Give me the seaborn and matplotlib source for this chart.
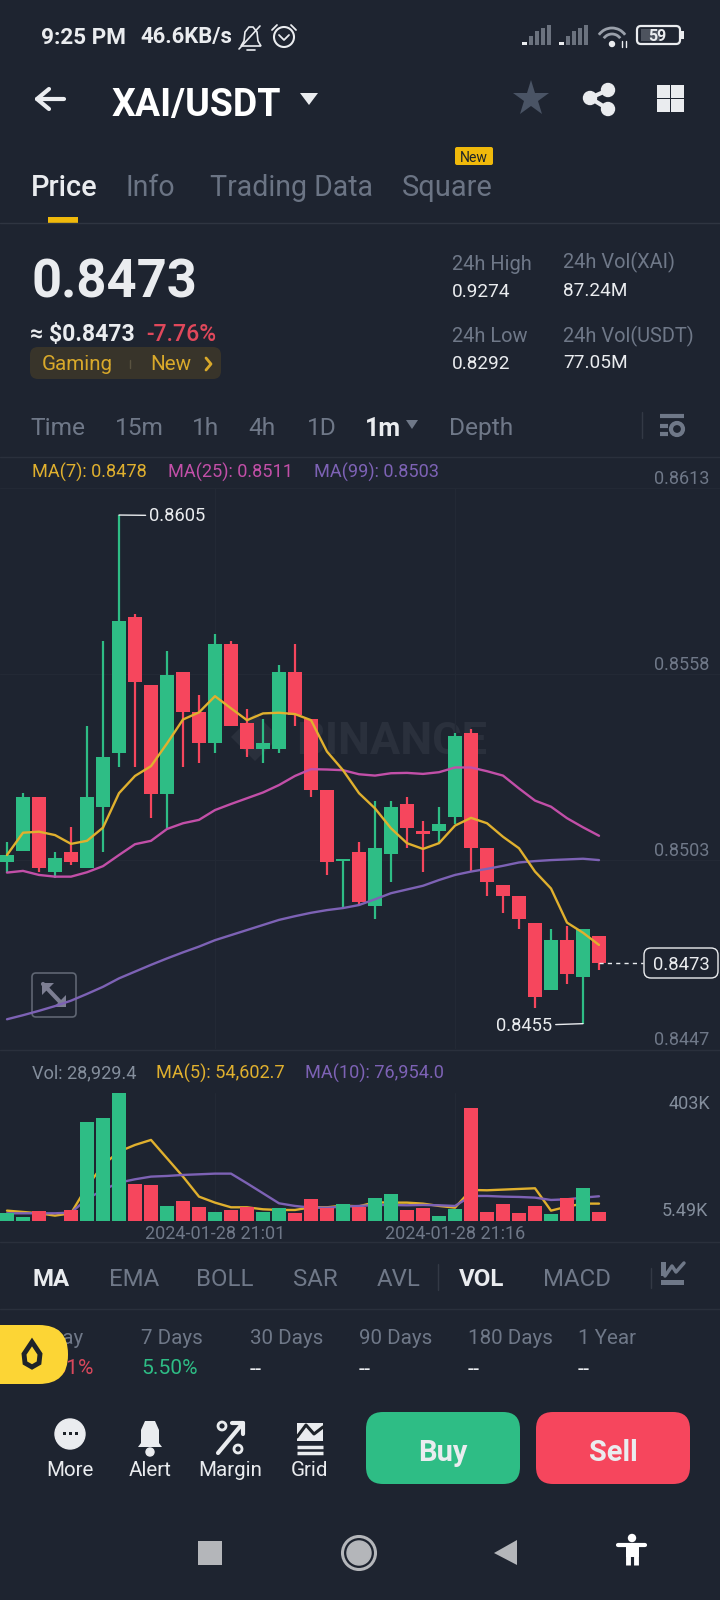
import numpy as np
import pandas as pd
import matplotlib
matplotlib.use('Agg')
from matplotlib import pyplot as plt
from matplotlib.patches import Circle, FancyBboxPatch, Polygon, Rectangle, Arc
import seaborn as sns

# candles
opens = [.85024, .85056, .85215, .84993, .85054, .85005, .85185, .85346, .85748, .85547,
         .85226, .85587, .85467, .85376, .85667, .85436, .85357, .85357, .85587, .85446,
         .85236, .85026, .85054, .84894, .85046, .85195, .85115, .85115, .85156, .85406,
         .85064, .84954, .84924, .84844, .84644, .84792, .84684, .84804]
closes = [.85044, .85215, .85005, .85034, .85024, .85215, .85335, .85737, .85557, .85226,
          .85577, .85467, .85376, .85667, .85427, .85357, .85376, .85587, .85457, .85236,
          .85024, .85031, .84906, .85064, .85185, .85125, .85105, .85135, .85396, .85066,
          .84965, .84924, .84854, .84623, .84792, .84693, .84824, .84724]
highs = [.85083, .85227, .85215, .85054, .85126, .85427, .85677, .8605, .85757, .85547,
         .85648, .85587, .85517, .85698, .85677, .85477, .85446, .85607, .85667, .85446,
         .85236, .85031, .85083, .85205, .85205, .85216, .85145, .85185, .85406, .85416,
         .85064, .84954, .84924, .84844, .84824, .84834, .84824, .84804]
lows = [.8499, .85056, .84995, .84975, .85014, .85005, .85054, .85305, .85305, .85154,
        .85123, .85305, .85315, .85347, .85427, .85335, .85315, .85347, .85427, .85215,
        .84985, .84886, .84894, .84854, .84965, .85066, .84995, .8508, .85135, .84995,
        .84924, .84873, .84824, .84592, .84644, .84663, .84545, .84703]

ma7 = [.85044, .8511, .85113, .85103, .85077, .85086, .85125, .85227, .85278, .85307,
       .85374, .85445, .85466, .85514, .85478, .85443, .85463, .85465, .85461, .85443,
       .8535, .85295, .85227, .85182, .85123, .85079, .85062, .85079, .85131, .85154,
       .85138, .85098, .85064, .84995, .84945, .84844, .84814, .84778]
ma25 = [.84992, .84997, .84985, .8498, .8498, .84993, .85011, .85044, .85076, .85086,
        .85121, .85138, .85148, .85177, .85195, .85212, .85229, .85251, .85278, .85298,
        .85297, .85295, .85283, .85279, .85286, .85287, .85284, .85289, .85303, .85303,
        .85292, .85279, .85241, .85205, .85187, .85153, .85126, .85101]
ma99 = [.84558, .8457, .84583, .84597, .84613, .84633, .84654, .84679, .84699, .84719,
        .84738, .84756, .84773, .84792, .84807, .84822, .84837, .84852, .84863, .84873,
        .84881, .84887, .84896, .84913, .84931, .84942, .84953, .8497, .84985, .84995,
        .85003, .85012, .85022, .85026, .85029, .85031, .85033, .85029]

# volume in thousands
vol = [25, 14.6, 32, 1.5, 34, 310, 323, 403, 116, 114, 49, 63, 45, 29, 35.5, 45, 29, 41, 26, 70,
       41, 53, 45, 72, 85, 35.5, 41, 16, 39, 355, 28, 54, 26, 47, 23, 73, 104.5, 30]
vol_ma5 = [33.4, 29.3, 25.1, 17.8, 25.1, 108.7, 176.6, 218.4, 239.3, 255, 197.5, 140, 77.3,
           58.5, 43.9, 43.9, 37.6, 35.5, 35.5, 43.9, 43.9, 49.1, 47, 59.6, 58.5, 58.5, 55.4,
           48.1, 42.8, 98.2, 97.2, 99.3, 101.4, 103.5, 33.4, 46, 55.4, 55.4]
vol_ma10 = [25.1, 25.1, 25.1, 25.1, 27.2, 70, 98.2, 121.2, 131.7, 140, 142.1, 145.3, 147.3,
            149.4, 149.4, 119.1, 87.8, 56.4, 48.1, 42.8, 42.8, 46, 48.1, 51.2, 51.2, 50.2,
            51.2, 50.2, 48.1, 79.4, 79.4, 77.3, 76.3, 74.2, 66.9, 69, 74.2, 78.4]

price_ticks = [0.8447, 0.8503, 0.8558, 0.8613]
time_labels = ['2024-01-28 21:01', '2024-01-28 21:16']
time_idx = [13, 28]

BG = '#1e2430'
GRID = '#232935'
GREEN = '#2ebd85'
RED = '#f6465d'
YELLOW = '#f0b90b'
GREY = '#848e9c'
WHITE = '#eaecef'
MA_Y = '#e0b02e'
MA_P = '#c24fa8'
MA_V = '#7d62b5'

sns.set_theme(style='dark', rc={'axes.facecolor': 'none', 'figure.facecolor': BG,
                                'axes.edgecolor': BG})
plt.rcParams['font.family'] = ['Roboto', 'DejaVu Sans']

df = pd.DataFrame({'idx': np.arange(len(opens)), 'open': opens, 'close': closes,
                   'high': highs, 'low': lows, 'ma7': ma7, 'ma25': ma25, 'ma99': ma99,
                   'vol': vol, 'vol_ma5': vol_ma5, 'vol_ma10': vol_ma10})
df['dir'] = np.where(df.close >= df.open, 'up', 'down')
df['col'] = df.dir.map({'up': GREEN, 'down': RED})

fig = plt.figure(figsize=(7.2, 16), dpi=100)

# whole screen in pixel coords, for the app chrome
ui = fig.add_axes([0, 0, 1, 1])
ui.set_xlim(0, 720)
ui.set_ylim(1600, 0)
ui.axis('off')


def txt(x, y, s, px, color=GREY, weight='normal', ha='left', **kw):
    return ui.text(x, y, s, fontsize=px * 0.72, color=color, fontweight=weight,
                   ha=ha, va='center_baseline', **kw)


def box(x0, y0, x1, y1, color, r=8, **kw):
    p = FancyBboxPatch((x0, y0), x1 - x0, y1 - y0, boxstyle=f'round,pad=0,rounding_size={r}',
                       facecolor=color, edgecolor=kw.pop('edgecolor', 'none'), **kw)
    ui.add_patch(p)
    return p


def seg(xs, ys, color=WHITE, lw=2, **kw):
    ui.plot(xs, ys, color=color, lw=lw, solid_capstyle=kw.pop('cap', 'round'), **kw)


# status bar
txt(41, 35, '9:25 PM', 22.5, WHITE, 'bold')
txt(140, 35, '46.6KB/s', 22, WHITE, 'bold')
ui.add_patch(Polygon([[241, 46], [244, 41], [245, 32], [249, 27], [253, 27], [257, 32], [258, 41],
                      [261, 46]], closed=True, fill=False, edgecolor=WHITE, lw=1.2))
seg([239, 260], [49, 26], WHITE, 1.2)
seg([247, 255], [50, 50], WHITE, 1.2)
ui.add_patch(Circle((284, 37), 10, fill=False, edgecolor=WHITE, lw=1.5))
seg([279, 284, 289], [35, 40, 35], WHITE, 1.3)
seg([272, 277], [30, 25], WHITE, 1.3)
seg([291, 296], [25, 30], WHITE, 1.3)
for gx in [522, 559]:
    ui.add_patch(Rectangle((gx, 42), 5, 3, color=WHITE, lw=0))
    for k, top in enumerate([36, 31, 28, 25]):
        ui.add_patch(Rectangle((gx + 6.5 + k * 6, top), 4, 45 - top, color='#6b727e', lw=0))
ui.add_patch(Arc((612, 44), 32, 32, theta1=215, theta2=325, color='#9aa0aa', lw=2))
ui.add_patch(Arc((612, 44), 20, 20, theta1=215, theta2=325, color='#9aa0aa', lw=2))
ui.add_patch(Circle((612, 44), 2.5, color=WHITE))
seg([622, 622], [41, 47], WHITE, 1)
seg([626, 626], [41, 47], WHITE, 1)
box(637, 26, 680, 44, 'none', r=4, edgecolor=WHITE, lw=1.6)
ui.add_patch(Rectangle((641, 29), 19, 12, color='#4d535e', lw=0))
txt(657, 35, '59', 16, WHITE, 'bold', ha='center')
ui.add_patch(Rectangle((681, 31), 3, 8, color=WHITE, lw=0))

# title row
seg([37, 64], [99, 99], WHITE, 3)
seg([49, 37, 49], [89, 99, 109], WHITE, 3)
txt(112, 102, 'XAI/USDT', 37.5, '#ffffff', 'bold')
ui.add_patch(Polygon([[300, 93], [318, 93], [309, 105]], closed=True, color=WHITE, lw=0))
ui.plot(530.5, 99, marker='*', ms=27, color='#4a5465', mew=0)
for cx, cy in [(590, 98), (608, 90), (608, 109)]:
    ui.add_patch(Circle((cx, cy), 6.5, color=WHITE))
seg([608, 590, 608], [90, 98, 109], WHITE, 3)
for cx in [657, 671]:
    for cy in [85, 99]:
        ui.add_patch(Rectangle((cx, cy), 12.5, 12.5, color=WHITE, lw=0))

# tabs
txt(31, 185, 'Price', 29, WHITE, 'medium')
txt(126, 185, 'Info', 28.5, '#6b7484')
txt(210, 185, 'Trading Data', 28.5, '#6b7484')
txt(402, 185, 'Square', 29, '#6b7484')
box(455, 147, 493, 165, YELLOW, r=2)
txt(474, 156, 'New', 14, '#1e2329', ha='center')
ui.add_patch(Rectangle((48, 217), 30, 6, color=YELLOW, lw=0))
seg([0, 720], [223, 223], '#2f3541', 1)

# price block
txt(31, 277, '0.8473', 52.5, WHITE, 'bold')
txt(30, 332, '≈ $0.8473', 23, WHITE, 'bold')
txt(146, 332, '-7.76%', 23, '#e0485b', 'medium')
box(30, 347, 221, 379, '#38342a', r=8)
txt(42, 363, 'Gaming', 20.5, '#d9a92a')
seg([130, 130], [360, 368], '#5a5340', 1)
txt(150, 363, 'New', 20.5, '#d9a92a')
seg([206, 211, 206], [358, 364, 370], '#d9a92a', 2)
txt(452, 262, '24h High', 20, '#6f7888')
txt(452, 290, '0.9274', 19, WHITE)
txt(563, 260, '24h Vol(XAI)', 20, '#6f7888')
txt(563, 289, '87.24M', 19, WHITE)
txt(452, 334, '24h Low', 20, '#6f7888')
txt(452, 362, '0.8292', 19, WHITE)
txt(563, 334, '24h Vol(USDT)', 20, '#6f7888')
txt(563, 361, '77.05M', 19, WHITE)

# interval row
for x, s in [(30, 'Time'), (115, '15m'), (192, '1h'), (248, '4h'), (307, '1D'), (449, 'Depth')]:
    txt(x, 426, s, 24.5, '#6f7888')
txt(365, 426, '1m', 25, WHITE, 'bold')
ui.add_patch(Polygon([[406, 420], [418, 420], [412, 429]], closed=True, color='#6f7888', lw=0))
seg([642, 642], [412, 438], '#333945', 1)
seg([660, 684], [416, 416], '#6f7888', 3, cap='butt')
seg([660, 668], [426, 426], '#6f7888', 3, cap='butt')
seg([660, 668], [434, 434], '#6f7888', 3, cap='butt')
ui.add_patch(Circle((677, 429), 6, fill=False, edgecolor='#6f7888', lw=3))
seg([0, 720], [457, 457], '#2a303c', 1)

# MA captions
txt(32, 470, 'MA(7): 0.8478', 18.2, MA_Y)
txt(168, 470, 'MA(25): 0.8511', 18.2, MA_P)
txt(314, 470, 'MA(99): 0.8503', 18.2, MA_V)
txt(32, 1071, 'Vol: 28,929.4', 18.2, GREY)
txt(156, 1071, 'MA(5): 54,602.7', 18.2, MA_Y)
txt(305, 1071, 'MA(10): 76,954.0', 18.2, MA_V)
seg([0, 720], [1049.5, 1049.5], '#2a303c', 1)
seg([0, 720], [1242, 1242], '#2a303c', 1)
txt(710, 1102, '403K', 18, GREY, ha='right')
txt(708, 1209, '5.49K', 18, GREY, ha='right')

# indicator row
for x, s in [(109, 'EMA'), (196, 'BOLL'), (293, 'SAR'), (377, 'AVL'), (543, 'MACD')]:
    txt(x, 1277, s, 24, '#6f7888')
txt(33, 1277, 'MA', 24, WHITE, 'bold')
txt(459, 1277, 'VOL', 24, WHITE, 'bold')
seg([438, 438], [1264, 1290], '#333945', 1)
seg([651, 651], [1268, 1288], '#333945', 1)
ui.add_patch(Polygon([[661, 1276], [666, 1276], [666, 1262], [661, 1262], [661, 1285], [684, 1285],
                      [684, 1280], [661, 1280]], closed=True, color='#6f7888', lw=0))
seg([665, 672, 676, 684], [1276, 1266, 1272, 1263], '#6f7888', 2.5)
seg([0, 720], [1309, 1309], '#2a303c', 1)

# performance row
for x, s in [(32, '1 Day'), (141, '7 Days'), (250, '30 Days'), (359, '90 Days'), (468, '180 Days'),
             (578, '1 Year')]:
    txt(x, 1336, s, 20.5, '#6f7888')
txt(94, 1367, '-1.51%', 21, '#d9485c', ha='right')
txt(141, 1367, '5.50%', 21, GREEN)
for x in [250, 359, 468, 578]:
    txt(x, 1368, '--', 22, WHITE)
ui.add_patch(FancyBboxPatch((-40, 1325), 108, 59, boxstyle='round,pad=0,rounding_size=29',
                            facecolor='#fcd535', edgecolor='none', zorder=5))
ui.add_patch(Polygon([[32, 1342], [40, 1354], [39, 1363], [32, 1367], [25, 1363], [24, 1354]],
                     closed=True, facecolor='#fcd535', edgecolor='#1e2329', lw=3.5, zorder=6))

# bottom actions
ui.add_patch(Circle((70, 1434), 15, color=WHITE))
for dx in [-6, 0, 6]:
    ui.add_patch(Rectangle((70 + dx - 1.5, 1432), 3, 3, color='#1e2329', lw=0))
ui.add_patch(Polygon([[138, 1447], [141, 1443], [141, 1430], [145, 1421], [155, 1421], [159, 1430],
                      [159, 1443], [162, 1447]], closed=True, color=WHITE, lw=0))
ui.add_patch(Circle((150, 1452), 4, color=WHITE))
seg([218, 243], [1453, 1423], WHITE, 3)
seg([232, 243, 243], [1423, 1423, 1434], WHITE, 3)
ui.add_patch(Circle((222, 1426), 4, fill=False, edgecolor=WHITE, lw=2))
ui.add_patch(Circle((238, 1449), 4, fill=False, edgecolor=WHITE, lw=2))
ui.add_patch(Polygon([[297, 1423], [323, 1423], [323, 1441], [297, 1441]], closed=True, color=WHITE, lw=0))
seg([297, 306, 314, 323], [1437, 1425, 1434, 1427], '#1e2329', 2.2)
seg([297, 323], [1447, 1447], WHITE, 2.5, cap='butt')
seg([297, 323], [1453, 1453], WHITE, 2.5, cap='butt')
for x, s in [(70, 'More'), (150, 'Alert'), (230, 'Margin'), (309, 'Grid')]:
    txt(x, 1469, s, 20.5, WHITE, ha='center')
box(366, 1412, 520, 1484, GREEN, r=17)
box(536, 1412, 690, 1484, RED, r=17)
txt(443, 1450, 'Buy', 29, WHITE, 'bold', ha='center')
txt(613, 1450, 'Sell', 29, WHITE, 'bold', ha='center')

# nav bar
ui.add_patch(Rectangle((198, 1541), 24, 24, color='#b4b6ba', lw=0))
ui.add_patch(Circle((359, 1553), 16.5, fill=False, edgecolor='#b4b6ba', lw=2.2))
ui.add_patch(Circle((359, 1553), 12, color='#b4b6ba'))
ui.add_patch(Polygon([[517, 1540], [517, 1565], [494, 1553]], closed=True, color='#b4b6ba', lw=0))
ui.add_patch(Circle((632, 1538), 3.5, color='#ffffff'))
seg([618, 645], [1545, 1545], '#ffffff', 3)
ui.add_patch(Rectangle((625.5, 1545), 13, 12, color='#ffffff', lw=0))
seg([628, 628], [1555, 1565], '#ffffff', 3.5, cap='butt')
seg([636, 636], [1555, 1565], '#ffffff', 3.5, cap='butt')

# price panel, 488 to 1049 px
ax = fig.add_axes([0, 1 - 1049 / 1600, 1, 561 / 1600])
ax.set_xlim(-7 / 16, 713 / 16)
ax.set_ylim(0.8447, 0.8613)
ax.set_yticks(price_ticks)
ax.yaxis.tick_right()
ax.set_yticklabels([f'{t:.4f}' for t in price_ticks])
ax.tick_params(axis='y', length=0, pad=-47.5, labelsize=13, labelcolor='#6f7888')
for lb in ax.get_yticklabels():
    lb.set_va('bottom')
ax.set_xticks(time_idx)
ax.tick_params(axis='x', length=0, labelbottom=False)
ax.grid(True, color=GRID, lw=1, zorder=0)
ax.set_axisbelow(True)

# watermark
ax.text(18.1, 0.85393, 'BINANCE', fontsize=32.5, fontweight='bold', color='#2a303c',
        va='center_baseline', zorder=0.5)
ax.plot(15.5, 0.85393, marker='D', ms=24, color='#2a303c', mew=0, zorder=0.5)

ax.vlines(df.idx, df.low, df.high, colors=df.col, lw=1.6, zorder=2)
ax.bar(df.idx, df.close - df.open, bottom=df.open, width=0.875, color=df.col, lw=0, zorder=3)

sns.lineplot(data=df, x='idx', y='ma99', color=MA_V, lw=1.7, ax=ax, zorder=4)
sns.lineplot(data=df, x='idx', y='ma25', color=MA_P, lw=1.7, ax=ax, zorder=4)
sns.lineplot(data=df, x='idx', y='ma7', color=MA_Y, lw=1.7, ax=ax, zorder=5)
ax.set_xlabel('')
ax.set_ylabel('')

arrow = dict(arrowstyle='-', color=WHITE, lw=1, shrinkA=0, shrinkB=0)
ax.annotate('0.8605', xy=(7, 0.8605), xytext=(21.5, 1), textcoords='offset points', color=WHITE,
            fontsize=13.2, va='center_baseline', arrowprops=arrow, zorder=6)
ax.annotate('0.8455', xy=(36, 0.84545), xytext=(-22, 0), textcoords='offset points', color=WHITE,
            fontsize=13.2, va='center_baseline', ha='right', arrowprops=arrow, zorder=6)
ax.hlines(0.84725, 37, 39.75, colors=WHITE, lw=1, linestyles=(0, (3, 3)), zorder=6)

# current price tag and expand button
box(644, 948, 718, 978, BG, r=7, edgecolor=WHITE, lw=1, zorder=1)
txt(681, 963, '0.8473', 18.5, WHITE, ha='center')
box(32, 973, 76, 1017, 'none', r=4, edgecolor='#5f6673', lw=1.2)
seg([43, 63], [984, 1005], '#7d7f93', 3)
ui.add_patch(Polygon([[42, 983], [54, 983], [42, 995]], closed=True, color='#7d7f93', lw=0))
ui.add_patch(Polygon([[66, 1007], [54, 1007], [66, 995]], closed=True, color='#7d7f93', lw=0))

# volume panel, 1092.7 to 1221.3 px
ax2 = fig.add_axes([0, 1 - 1221.3 / 1600, 1, 128.6 / 1600])
sns.lineplot(data=df, x='idx', y='vol_ma5', color=MA_Y, lw=1.7, ax=ax2, zorder=1)
sns.lineplot(data=df, x='idx', y='vol_ma10', color=MA_V, lw=1.7, ax=ax2, zorder=1)
sns.barplot(data=df, x='idx', y='vol', hue='dir', palette={'up': GREEN, 'down': RED},
            native_scale=True, dodge=False, width=0.875, saturation=1, legend=False, ax=ax2,
            zorder=2, linewidth=0, edgecolor='none')
ax2.set_xlim(-7 / 16, 713 / 16)
ax2.set_ylim(0, 403)
ax2.set_yticks([])
ax2.set_xticks(time_idx)
ax2.set_xticklabels(time_labels)
ax2.tick_params(axis='x', length=0, pad=2.5, labelsize=13, labelcolor='#6f7888')
ax2.grid(True, axis='x', color=GRID, lw=1)
ax2.set_axisbelow(True)
ax2.set_xlabel('')
ax2.set_ylabel('')
sns.despine(ax=ax2, left=True, bottom=True)
sns.despine(ax=ax, left=True, bottom=True)

fig.savefig('out.png', dpi=100, facecolor=BG)
